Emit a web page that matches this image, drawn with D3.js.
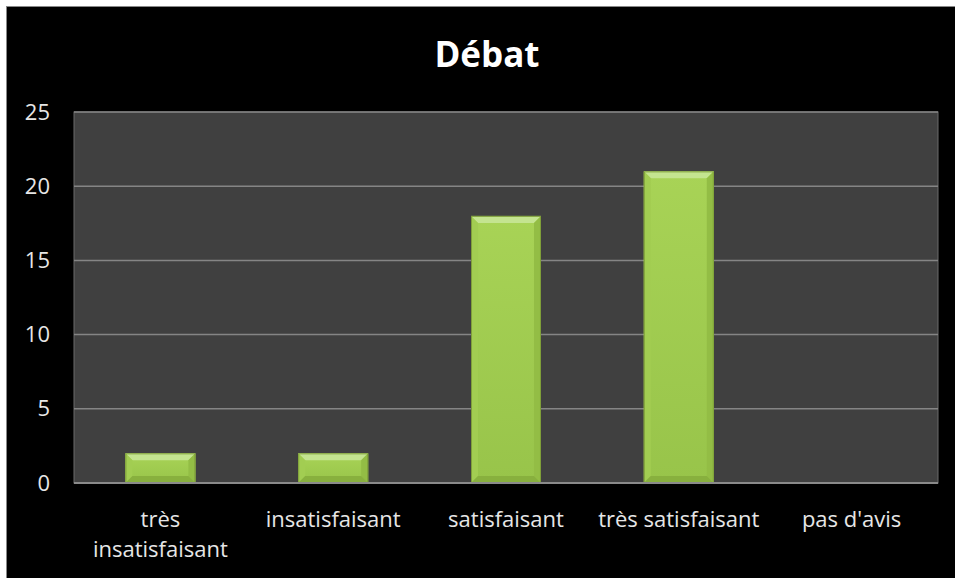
<!DOCTYPE html>
<html><head><meta charset="utf-8">
<script src="https://cdn.jsdelivr.net/npm/d3@7/dist/d3.min.js"></script>
<style>
html,body{margin:0;padding:0;background:#fff;}
svg{display:block;}
</style></head>
<body>
<script>
const categories = ["très insatisfaisant", "insatisfaisant", "satisfaisant", "très satisfaisant", "pas d'avis"];
const categoryLines = [["très", "insatisfaisant"], ["insatisfaisant"], ["satisfaisant"], ["très satisfaisant"], ["pas d'avis"]];
const values = [2, 2, 18, 21, 0];
const yTicks = [0, 5, 10, 15, 20, 25];
const title = "Débat";

(function () {
const W = 955, H = 578;
const svg = d3.select("body").append("svg").attr("width", W).attr("height", H);

const defs = svg.append("defs");
const g1 = defs.append("linearGradient").attr("id", "face").attr("x1", 0).attr("y1", 0).attr("x2", 0).attr("y2", 1);
g1.append("stop").attr("offset", "0%").attr("stop-color", "#a8d356");
g1.append("stop").attr("offset", "100%").attr("stop-color", "#98c44a");

// outer frame
svg.append("rect").attr("x", 6).attr("y", 6).attr("width", W - 6).attr("height", H - 6).attr("fill", "#888");
svg.append("rect").attr("x", 7).attr("y", 7).attr("width", W - 7).attr("height", H - 7).attr("fill", "#000");

const pL = 74, pR = 938, pT = 112, pB = 483;
const x = d3.scaleBand().domain(categories).range([pL, pR]).paddingInner(0.595).paddingOuter(0.2975);
const y = d3.scaleLinear().domain([0, 25]).range([pB, pT]);

svg.append("rect").attr("x", pL).attr("y", pT).attr("width", pR - pL).attr("height", pB - pT)
  .attr("fill", "#404040").attr("stroke", "#6a6a6a").attr("stroke-width", 1);

// gridlines
svg.append("g").selectAll("line").data(yTicks.filter(d => d > 0)).join("line")
  .attr("x1", pL).attr("x2", pR).attr("y1", d => y(d)).attr("y2", d => y(d))
  .attr("stroke", "#858585").attr("stroke-width", 1.5);

// y axis labels
const yAxis = d3.axisLeft(y).tickValues(yTicks).tickSize(0).tickPadding(24);
const ya = svg.append("g").attr("transform", `translate(${pL},0)`).call(yAxis);
ya.select(".domain").remove();
ya.selectAll("text").attr("fill", "#e6e6e6").style("font-family", "'Open Sans', sans-serif").style("font-size", "22px");

// bars with bevel
const bev = 7;
const bars = svg.append("g").selectAll("g").data(values.map((v, i) => ({v, c: categories[i]})).filter(d => d.v > 0)).join("g");
bars.each(function(d) {
  const gg = d3.select(this);
  const x0 = x(d.c), x1 = x0 + x.bandwidth(), y0 = y(d.v), y1 = y(0);
  gg.append("rect").attr("x", x0).attr("y", y0).attr("width", x1 - x0).attr("height", y1 - y0).attr("fill", "url(#face)");
  gg.append("polygon").attr("points", [[x0, y0], [x1, y0], [x1 - bev, y0 + bev], [x0 + bev, y0 + bev]].join(" ")).attr("fill", "#c4e490");
  gg.append("polygon").attr("points", [[x0, y0], [x0 + bev, y0 + bev], [x0 + bev, y1 - bev], [x0, y1]].join(" ")).attr("fill", "#a2cd52");
  gg.append("polygon").attr("points", [[x1, y0], [x1 - bev, y0 + bev], [x1 - bev, y1 - bev], [x1, y1]].join(" ")).attr("fill", "#93bd45");
  gg.append("polygon").attr("points", [[x0, y1], [x0 + bev, y1 - bev], [x1 - bev, y1 - bev], [x1, y1]].join(" ")).attr("fill", "#88b03e");
  gg.append("rect").attr("x", x0 + 0.5).attr("y", y0 + 0.5).attr("width", x1 - x0 - 1).attr("height", y1 - y0 - 1)
    .attr("fill", "none").attr("stroke", "#7f9f3a").attr("stroke-width", 1);
});

// x axis line
svg.append("line").attr("x1", pL).attr("x2", pR).attr("y1", pB).attr("y2", pB)
  .attr("stroke", "#8a8a8a").attr("stroke-width", 2);

// category labels
const xl = svg.append("g");
categories.forEach((c, i) => {
  const cx = x(c) + x.bandwidth() / 2;
  const t = xl.append("text").attr("x", cx).attr("y", 527).attr("text-anchor", "middle")
    .attr("fill", "#e6e6e6").style("font-family", "'Open Sans', sans-serif").style("font-size", "22px");
  categoryLines[i].forEach((ln, j) => {
    t.append("tspan").attr("x", cx).attr("dy", j === 0 ? 0 : 30).text(ln);
  });
});

// title
svg.append("text").attr("x", 487).attr("y", 67).attr("text-anchor", "middle")
  .attr("fill", "#fff").style("font-family", "'Open Sans', sans-serif").style("font-weight", "bold").style("font-size", "35px")
  .text(title);
})();
</script>
</body></html>
